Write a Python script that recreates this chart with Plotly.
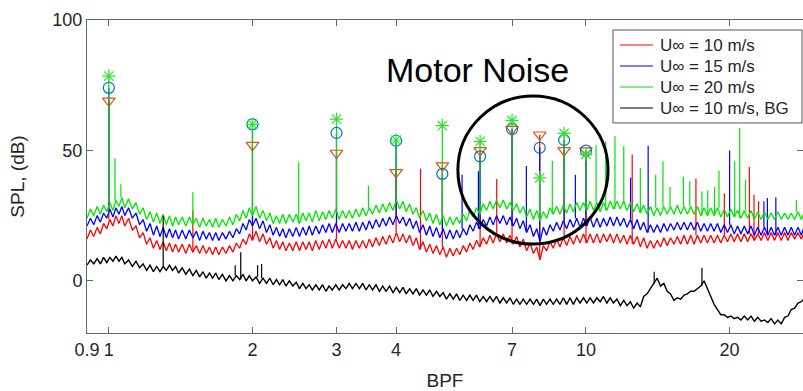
import numpy as np
import plotly.graph_objects as go

# ---------------- data ----------------
bpf = [0.900, 0.915, 0.930, 0.945, 0.960, 0.975, 0.990, 1.005, 1.020, 1.035,
       1.050, 1.065, 1.080, 1.100, 1.120, 1.140, 1.160, 1.180, 1.200, 1.220,
       1.240, 1.260, 1.280, 1.300, 1.320, 1.340, 1.360, 1.380, 1.400, 1.425,
       1.450, 1.475, 1.500, 1.525, 1.550, 1.575, 1.600, 1.625, 1.650, 1.675,
       1.700, 1.730, 1.760, 1.790, 1.820, 1.850, 1.880, 1.910, 1.940, 1.970,
       2.000, 2.035, 2.070, 2.105, 2.140, 2.175, 2.210, 2.245, 2.280, 2.315,
       2.350, 2.390, 2.430, 2.470, 2.510, 2.550, 2.590, 2.630, 2.670, 2.715,
       2.760, 2.805, 2.850, 2.895, 2.940, 2.990, 3.040, 3.090, 3.140, 3.190,
       3.240, 3.295, 3.350, 3.405, 3.460, 3.515, 3.570, 3.630, 3.690, 3.750,
       3.810, 3.875, 3.940, 4.005, 4.070, 4.135, 4.200, 4.270, 4.340, 4.410,
       4.480, 4.555, 4.630, 4.705, 4.780, 4.860, 4.940, 5.020, 5.100, 5.185,
       5.270, 5.355, 5.440, 5.530, 5.620, 5.710, 5.800, 5.895, 5.990, 6.090,
       6.190, 6.290, 6.390, 6.495, 6.600, 6.710, 6.820, 6.930, 7.040, 7.155,
       7.270, 7.390, 7.510, 7.635, 7.760, 7.885, 8.010, 8.140, 8.270, 8.405,
       8.540, 8.680, 8.820, 8.965, 9.110, 9.260, 9.410, 9.565, 9.720, 9.880,
       10.04, 10.20, 10.37, 10.54, 10.71, 10.88, 11.06, 11.24, 11.42, 11.61,
       11.80, 12.00, 12.19, 12.39, 12.59, 12.80, 13.00, 13.21, 13.43, 13.65,
       13.87, 14.10, 14.33, 14.56, 14.80, 15.04, 15.29, 15.54, 15.79, 16.05,
       16.31, 16.58, 16.85, 17.12, 17.40, 17.68, 17.97, 18.26, 18.56, 18.86,
       19.17, 19.48, 19.80, 20.12, 20.45, 20.78, 21.12, 21.47, 21.82, 22.18,
       22.54, 22.91, 23.28, 23.66, 24.05, 24.44, 24.84, 25.25, 25.66, 26.08,
       26.50, 26.93, 27.37, 27.82, 28.27, 28.63, 29.00]

spl_10 = [16, 19.5, 17, 20.5, 18, 22, 20, 23.5, 21, 25,
          22, 25, 21, 24, 19.5, 21, 16.5, 18.5, 14, 16.5,
          12.5, 15.5, 12, 15, 11.5, 14.5, 11, 14, 11, 14,
          10.5, 14, 11, 13.5, 10.5, 13.5, 10.5, 13, 10, 13,
          10, 13, 10.5, 13.5, 11, 14.5, 12.5, 16, 14, 18,
          15.5, 19, 15, 18, 14, 16.5, 12.5, 15.5, 12, 15,
          11.5, 14.5, 11.5, 15, 11.5, 15, 12, 15, 11.5, 15.5,
          12, 15.5, 12.5, 16, 12.5, 16, 12.5, 15.5, 12.5, 15.5,
          12, 15.5, 12.5, 15.5, 12.5, 16, 13, 16.5, 13.5, 17,
          14, 17.5, 14.5, 18.5, 15, 18, 14.5, 17.5, 13.5, 16.5,
          12, 15, 11, 14, 10.5, 13.5, 10, 13, 9, 12.5,
          9.5, 12.5, 10, 13.5, 11, 14.5, 12, 15.5, 13, 16.5,
          14, 17.5, 14.5, 18, 15, 18, 14.5, 17.5, 14, 17,
          13, 16, 11.5, 14.5, 10.5, 13, 8, 13.5, 11.5, 15,
          12.5, 16, 13, 16.5, 13.5, 17, 14, 17.5, 14.5, 18,
          14.5, 18, 14.5, 18, 14.5, 18, 15, 18, 14.5, 18,
          14.5, 17.5, 14, 17.5, 14, 17, 13, 16.5, 12.5, 15.5,
          12.5, 15.5, 13, 16.5, 13.5, 16.5, 14, 17, 14, 17.5,
          14, 17.5, 14, 17.5, 14.5, 17.5, 14.5, 17.5, 14.5, 17.5,
          14.5, 17.5, 15, 18, 15, 18, 15, 18, 15, 18,
          15.5, 18, 15.5, 18.5, 15.5, 18.5, 15.5, 18.5, 15.5, 18.5,
          15.5, 18.5, 16, 18.5, 16, 18.5, 16]

spl_15 = [21, 24, 21.5, 25, 22.5, 26, 24, 27.5, 24.5, 28,
          25.5, 28.5, 25, 28, 24, 26, 21.5, 23.5, 19, 22,
          17.5, 21, 17, 20.5, 16.5, 20, 16.5, 19.5, 16, 19.5,
          16, 19.5, 16.5, 19, 15.5, 19, 16, 18.5, 15.5, 18.5,
          15.5, 18.5, 16, 19, 16.5, 20, 18, 22, 19.5, 23.5,
          21, 24, 20, 23, 18.5, 21.5, 17.5, 20.5, 17, 20,
          16.5, 20, 17, 20.5, 17, 20.5, 17.5, 21, 17.5, 21,
          18, 21.5, 18.5, 22, 18.5, 22, 18.5, 22, 19, 22,
          19, 22.5, 19, 22.5, 19.5, 23, 20, 23.5, 20.5, 24,
          21, 24.5, 21.5, 25, 22, 24.5, 21, 24, 20, 23,
          18.5, 21.5, 17.5, 21, 17, 20.5, 16.5, 20, 16, 19.5,
          16, 19.5, 16.5, 20, 17.5, 21.5, 19, 22.5, 20, 23.5,
          21, 24.5, 21.5, 25, 22, 25, 21.5, 24.5, 21, 24,
          20, 23, 18.5, 21.5, 17, 20, 15, 20.5, 17.5, 21.5,
          19, 22.5, 19.5, 23, 20, 23.5, 20.5, 24, 20.5, 24,
          21, 24.5, 20.5, 24, 20.5, 24, 21, 24.5, 21, 24.5,
          21, 24, 20.5, 23.5, 20, 23.5, 19.5, 22.5, 18.5, 21.5,
          18.5, 21.5, 18.5, 22, 19, 22, 19.5, 22.5, 19.5, 22.5,
          19.5, 22.5, 19.5, 22.5, 19, 22, 19, 22, 19, 22,
          18.5, 21.5, 18.5, 21.5, 18, 21, 18, 21, 18, 21,
          17.5, 20.5, 17.5, 20.5, 17.5, 20.5, 17.5, 20.5, 17.5, 20.5,
          17.5, 20.5, 17.5, 20.5, 17.5, 20.5, 18]

spl_20 = [24, 27.5, 25, 28.5, 25.5, 29, 26.5, 30, 27, 31,
          28.5, 32, 28, 31.5, 27.5, 30, 25.5, 28, 23.5, 26.5,
          22.5, 26, 22, 25.5, 21.5, 25, 21, 24.5, 21.5, 24.5,
          21, 24.5, 21.5, 24, 20.5, 24, 21, 23.5, 20.5, 24,
          20.5, 23.5, 21, 24.5, 21.5, 25.5, 23, 27, 24, 28,
          25, 28.5, 24, 27, 23, 26, 22, 25, 22, 25.5,
          22, 25.5, 22.5, 25.5, 22, 26, 23, 26, 22.5, 27,
          23, 26.5, 23.5, 27, 24, 27.5, 23.5, 27, 24, 27,
          24, 27.5, 24.5, 28, 25, 28, 25.5, 29, 26, 29.5,
          26.5, 30, 27, 31, 27.5, 30.5, 26.5, 29.5, 25.5, 28,
          24, 27, 23, 26, 22, 25.5, 21.5, 25, 21, 24.5,
          21.5, 24.5, 22, 25.5, 23, 27, 24.5, 28, 25.5, 29.5,
          27, 30.5, 27.5, 31, 28, 31, 27.5, 30, 27, 29.5,
          26, 28.5, 24.5, 27.5, 23.5, 27, 23, 26.5, 24, 28,
          25.5, 28.5, 25.5, 29, 26, 29.5, 26.5, 30, 27, 30,
          27, 30.5, 27, 30, 26.5, 30, 27, 30.5, 27.5, 30.5,
          27.5, 30.5, 27, 30, 26.5, 29.5, 26, 29, 25.5, 28.5,
          25, 28, 25, 28.5, 25.5, 28.5, 25.5, 29, 25.5, 28.5,
          25.5, 28.5, 25.5, 28.5, 25, 28, 25, 28, 25, 28,
          24.5, 27.5, 24.5, 27.5, 24.5, 27, 24, 27, 24, 27,
          23.5, 26.5, 23.5, 26.5, 23.5, 26, 23.5, 26.5, 23.5, 26,
          23.5, 26, 23.5, 26.5, 23.5, 26, 24]

spl_bg = [6, 8, 6.5, 8.5, 6.5, 9, 7, 9, 7.5, 9.5,
          7.5, 9, 6.5, 8, 5.5, 7.5, 5, 6.5, 4, 6,
          3.5, 5.5, 3.5, 5.5, 4, 6, 4, 5.5, 3, 5,
          2.5, 4.5, 2, 4, 1.5, 3.5, 1, 3, 1, 3,
          0.5, 2.5, 0, 2, 0, 2, 0.5, 2.5, 0, 2,
          0, 1.5, -1, 1, -1, 1, -1.5, 0.5, -1.5, 0.5,
          -2, 0, -2, -0.5, -3, -1, -3, -1.5, -3.5, -1.5,
          -3.5, -1.5, -4, -2, -3.5, -1.5, -3.5, -1.5, -3, -1,
          -3, -1, -3, -1, -3.5, -1.5, -3.5, -1.5, -4, -2,
          -4, -2, -4.5, -2.5, -4.5, -2.5, -5, -3, -5, -3,
          -5.5, -3.5, -5.5, -3.5, -6, -4, -6, -4.5, -7, -5,
          -7, -5, -7.5, -5.5, -7.5, -5.5, -7.5, -5.5, -8, -6,
          -8, -6, -8, -6, -8.5, -6.5, -8.5, -6.5, -9, -7,
          -9, -7, -9, -7, -9, -7, -9.5, -7, -9, -7,
          -9, -7, -9, -6.5, -9, -6.5, -9, -6.5, -8.5, -6.5,
          -8.5, -6.5, -8.5, -6.5, -8, -6, -8.5, -6.5, -8.5, -7,
          -9.5, -7.5, -9.5, -8, -10.5, -8.5, -10, -6, -5, -3,
          -1, 1, -2, -1, -4, -5, -7.5, -6.5, -7, -5.5,
          -5, -4, -4, -3, -2, 0, -3, -6, -9, -11,
          -13, -13, -14, -13.5, -14.5, -14, -15, -13.5, -15, -13.5,
          -15.5, -14, -15.5, -15, -16, -14.5, -16.5, -15, -16.5, -14,
          -13.5, -11, -10.5, -8.5, -8, -7, -7.5]

# tonal peaks (BPF, peak level in dB)
peaks_10_f = [1, 2, 3, 4, 4.5, 5, 6, 6.5, 7, 8, 9, 10, 1.5, 12.5, 17, 19.5, 22, 22.5, 23]
peaks_10_v = [69, 52, 49, 41.6, 43, 44.2, 50, 39, 58.2, 56, 50, 49.9, 27, 48.4, 39.2, 33.5, 43.6, 33, 30.5]

peaks_15_f = [1, 2, 3, 4, 5, 5.5, 5.95, 6, 7, 7.5, 8, 9, 9.5, 10, 12.4, 13.5, 20, 23.6, 24, 25]
peaks_15_v = [74, 60, 56.7, 53.7, 41, 40.7, 42, 47.7, 58.2, 44, 51, 54, 40.7, 49.9, 39.6, 51.8, 50, 30.5, 31.8, 32]

peaks_20_f = [1, 1.03, 1.06, 1.5, 2, 2.5, 3, 3.5, 4, 5, 6, 7, 8, 8.5, 9, 10,
              10.5, 11, 11.5, 12, 13, 14, 14.5, 15, 16, 16.5, 17.5, 18, 18.6, 19,
              20.5, 21, 21.6, 27.6]
peaks_20_v = [78.5, 47, 37, 34, 60, 45.5, 62, 36.5, 54, 59.5, 53.5, 61.5, 39.5, 46, 56.5, 48.5,
              52, 53.5, 55.4, 51.6, 43.3, 40.7, 45.8, 36, 39.8, 38.2, 34.3, 34.7, 36, 42.3,
              45.8, 58.6, 38.8, 31]

peaks_bg_f = [1.30, 1.84, 1.89, 2.05, 2.09, 13.9, 17.5]
peaks_bg_v = [25, 6, 11, 6, 6.5, 3.5, 5]

# harmonic markers at integer BPF
harm = [1, 2, 3, 4, 5, 6, 7, 8, 9, 10]
mark_10 = [69, 52, 49, 41.6, 44.2, 50, 58.2, 56, 50, 49.9]
mark_15 = [74, 60, 56.7, 53.7, 41, 47.7, 58.2, 51, 54, 49.9]
mark_20 = [78.5, 60, 62, 54, 59.5, 53.5, 61.5, 39.5, 56.5, 48.5]

x_ticks = [0.9, 1, 2, 3, 4, 7, 10, 20]
y_ticks = [0, 50, 100]

names = ["U\u221e = 10 m/s", "U\u221e = 15 m/s", "U\u221e = 20 m/s", "U\u221e = 10 m/s, BG"]
colors = ["#ff0000", "#0000ff", "#00e600", "#000000"]
widths = [1.3, 1.3, 1.3, 1.4]

# ---------------- figure ----------------
FONT = "Liberation Sans, Arial, Helvetica, sans-serif"
TXT = "#262626"
fig = go.Figure()

grid = np.array(bpf)
series = [(spl_10, peaks_10_f, peaks_10_v), (spl_15, peaks_15_f, peaks_15_v),
          (spl_20, peaks_20_f, peaks_20_v), (spl_bg, peaks_bg_f, peaks_bg_v)]

for (vals, pf, pv), name, col, w in zip(series, names, colors, widths):
    fig.add_trace(go.Scatter(x=bpf, y=vals, mode="lines", name=name, showlegend=False,
                             line=dict(color=col, width=w)))
    sx, sy = [], []
    arr = np.array(vals)
    for f, v in zip(pf, pv):
        i = int(np.argmin(np.abs(np.log(grid) - np.log(f))))
        sx += [f, f, None]
        sy += [arr[i], v, None]
    fig.add_trace(go.Scatter(x=sx, y=sy, mode="lines", showlegend=False,
                             line=dict(color=col, width=1.2), hoverinfo="skip"))

fig.add_trace(go.Scatter(x=harm, y=mark_10, mode="markers", showlegend=False,
                         marker=dict(symbol="triangle-down-open", size=11, color="#D95319",
                                     line=dict(width=1.2))))
fig.add_trace(go.Scatter(x=harm, y=mark_15, mode="markers", showlegend=False,
                         marker=dict(symbol="circle-open", size=11, color="#0072BD",
                                     line=dict(width=1.2))))
fig.add_trace(go.Scatter(x=harm, y=mark_20, mode="markers", showlegend=False,
                         marker=dict(symbol="asterisk-open", size=11, color="#2ee62e",
                                     line=dict(width=1.2))))

# annotation + circle
fig.add_annotation(text="Motor Noise", xref="paper", yref="paper",
                   x=0.5447, y=0.840, xanchor="center", yanchor="middle", showarrow=False,
                   font=dict(family=FONT, size=34, color="#000000"))
fig.add_shape(type="circle", xref="paper", yref="paper",
              x0=0.518, x1=0.7277, y0=0.2843, y1=0.757,
              line=dict(color="#000000", width=3))

# legend box (drawn in paper coordinates of the plot area)
fig.add_shape(type="rect", xref="paper", yref="paper", layer="above",
              x0=0.7346, x1=0.9986, y0=0.671, y1=0.968,
              fillcolor="white", line=dict(color="#555555", width=1))
row_y = [0.9201, 0.8530, 0.7859, 0.7188]
for name, col, yy in zip(names, colors, row_y):
    fig.add_shape(type="line", xref="paper", yref="paper", layer="above",
                  x0=0.7444, x1=0.7905, y0=yy, y1=yy,
                  line=dict(color=col, width=1))
    fig.add_annotation(text=name, xref="paper", yref="paper", x=0.7975, y=yy,
                       xanchor="left", yanchor="middle", showarrow=False,
                       font=dict(family=FONT, size=17, color=TXT))

axis_common = dict(showline=True, linecolor="#666666", linewidth=1, mirror="ticks",
                   ticks="inside", ticklen=6, tickcolor="#666666", showgrid=False,
                   zeroline=False, tickfont=dict(family=FONT, size=18, color=TXT))

fig.update_layout(
    width=803, height=391,
    margin=dict(l=87, r=0, t=20, b=58),
    paper_bgcolor="white", plot_bgcolor="white",
    font=dict(family=FONT, color=TXT),
    showlegend=False,
    xaxis=dict(type="log", range=[np.log10(0.9), np.log10(28.5)],
               tickvals=x_ticks, ticktext=[str(t) for t in x_ticks],
               title=dict(text="BPF", font=dict(family=FONT, size=19, color=TXT), standoff=17),
               **axis_common),
    yaxis=dict(range=[-20, 100], tickvals=y_ticks,
               title=dict(text="SPL, (dB)", font=dict(family=FONT, size=19, color=TXT), standoff=22),
               **axis_common),
)

fig.write_html("out.html")
